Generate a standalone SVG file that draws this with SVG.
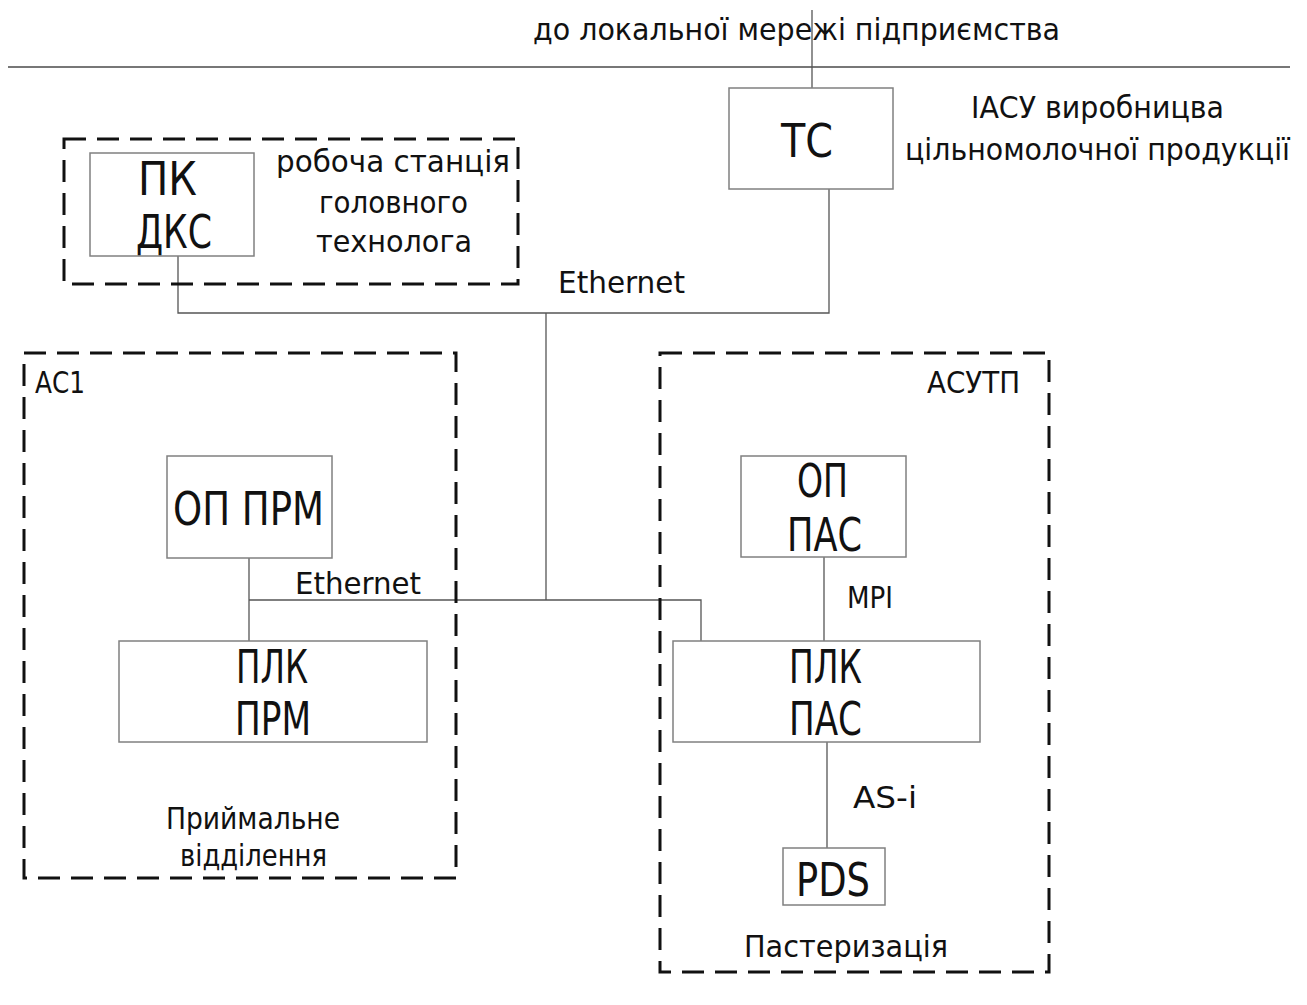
<svg xmlns="http://www.w3.org/2000/svg" width="1307" height="1005" viewBox="0 0 1307 1005">
<style>
.bg{fill:#fff}
.box{fill:none;stroke:#808080;stroke-width:1.5}
.grp{fill:none;stroke:#111;stroke-width:3;stroke-dasharray:22 11}
.ln{fill:none;stroke:#555;stroke-width:1.3}
.t{font-family:"DejaVu Sans Condensed","DejaVu Sans",sans-serif;fill:#111}
.big{font-size:46px}
.sm{font-size:30px}
</style>
<rect class="bg" width="1307" height="1005"/>
<g id="connectors">
<line class="ln" x1="8" y1="67" x2="1290" y2="67" style="stroke-width:2;stroke:#777"/>
<line class="ln" x1="812" y1="10" x2="812" y2="88"/>
<polyline class="ln" points="829,189 829,313 178,313 178,256"/>
<line class="ln" x1="546" y1="313" x2="546" y2="600"/>
<polyline class="ln" points="249,600 701,600 701,641"/>
<line class="ln" x1="249" y1="558" x2="249" y2="641"/>
<line class="ln" x1="824" y1="557" x2="824" y2="641"/>
<line class="ln" x1="827" y1="742" x2="827" y2="848"/>
</g>
<g id="label-top"><text class="t sm" x="533" y="40" textLength="527" lengthAdjust="spacingAndGlyphs">до локальної мережі підприємства</text></g>
<g id="label-iasu">
<text class="t sm" x="971" y="118" textLength="253" lengthAdjust="spacingAndGlyphs">ІАСУ виробницва</text>
<text class="t sm" x="905" y="160" textLength="385" lengthAdjust="spacingAndGlyphs">цільномолочної продукції</text>
</g>
<g id="label-eth1"><text class="t sm" x="558" y="293" textLength="127" lengthAdjust="spacingAndGlyphs">Ethernet</text></g>
<g id="label-eth2"><text class="t sm" x="295" y="594" textLength="126" lengthAdjust="spacingAndGlyphs">Ethernet</text></g>
<g id="label-mpi"><text class="t sm" x="847" y="608" textLength="46" lengthAdjust="spacingAndGlyphs">MPI</text></g>
<g id="label-asi"><text class="t sm" x="853" y="808" textLength="64" lengthAdjust="spacingAndGlyphs">AS-i</text></g>
<g id="group-ws">
<rect class="grp" x="64" y="139" width="454" height="145"/>
<text class="t sm" x="276" y="172" textLength="234" lengthAdjust="spacingAndGlyphs">робоча станція</text>
<text class="t sm" x="319" y="213" textLength="149" lengthAdjust="spacingAndGlyphs">головного</text>
<text class="t sm" x="316" y="252" textLength="156" lengthAdjust="spacingAndGlyphs">технолога</text>
</g>
<g id="node-pk">
<rect class="box" x="90" y="153" width="164" height="103"/>
<text class="t big" x="138" y="195" textLength="59" lengthAdjust="spacingAndGlyphs">ПК</text>
<text class="t big" x="136" y="248" textLength="76" lengthAdjust="spacingAndGlyphs">ДКС</text>
</g>
<g id="node-tc">
<rect class="box" x="729" y="88" width="164" height="101"/>
<text class="t big" x="781" y="157" textLength="52" lengthAdjust="spacingAndGlyphs">ТС</text>
</g>
<g id="group-ac1">
<rect class="grp" x="24" y="353" width="432" height="525"/>
<text class="t sm" x="35" y="393" textLength="50" lengthAdjust="spacingAndGlyphs">АС1</text>
<text class="t sm" x="166" y="829" textLength="174" lengthAdjust="spacingAndGlyphs">Приймальне</text>
<text class="t sm" x="180" y="866" textLength="147" lengthAdjust="spacingAndGlyphs">відділення</text>
</g>
<g id="node-op-prm">
<rect class="box" x="167" y="456" width="165" height="102"/>
<text class="t big" x="173" y="525" textLength="151" lengthAdjust="spacingAndGlyphs">ОП ПРМ</text>
</g>
<g id="node-plk-prm">
<rect class="box" x="119" y="641" width="308" height="101"/>
<text class="t big" x="236" y="683" textLength="72" lengthAdjust="spacingAndGlyphs">ПЛК</text>
<text class="t big" x="235" y="735" textLength="76" lengthAdjust="spacingAndGlyphs">ПРМ</text>
</g>
<g id="group-asutp">
<rect class="grp" x="660" y="353" width="389" height="619"/>
<text class="t sm" x="927" y="393" textLength="93" lengthAdjust="spacingAndGlyphs">АСУТП</text>
<text class="t sm" x="744" y="957" textLength="204" lengthAdjust="spacingAndGlyphs">Пастеризація</text>
</g>
<g id="node-op-pas">
<rect class="box" x="741" y="456" width="165" height="101"/>
<text class="t big" x="797" y="497" textLength="51" lengthAdjust="spacingAndGlyphs">ОП</text>
<text class="t big" x="787" y="551" textLength="75" lengthAdjust="spacingAndGlyphs">ПАС</text>
</g>
<g id="node-plk-pas">
<rect class="box" x="673" y="641" width="307" height="101"/>
<text class="t big" x="789" y="683" textLength="73" lengthAdjust="spacingAndGlyphs">ПЛК</text>
<text class="t big" x="789" y="735" textLength="73" lengthAdjust="spacingAndGlyphs">ПАС</text>
</g>
<g id="node-pds">
<rect class="box" x="783" y="848" width="102" height="57"/>
<text class="t big" x="796" y="896" textLength="74" lengthAdjust="spacingAndGlyphs">PDS</text>
</g>
</svg>
